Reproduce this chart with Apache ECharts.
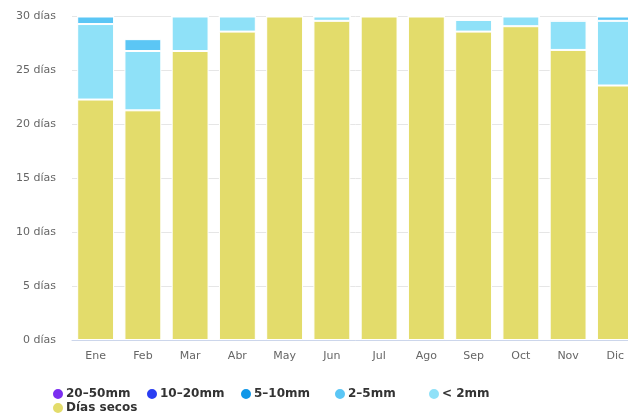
<!DOCTYPE html>
<html>
<head>
<meta charset="utf-8">
<script src="https://cdn.jsdelivr.net/npm/echarts@6/dist/echarts.min.js"></script>
<style>
html,body{margin:0;padding:0;background:#fff;overflow:hidden;}
#chart{width:640px;height:414px;}
</style>
</head>
<body>
<div id="chart"></div>
<script>
var months = ['Ene','Feb','Mar','Abr','May','Jun','Jul','Ago','Sep','Oct','Nov','Dic'];
var yTicks = [0,5,10,15,20,25,30];
var diasSecos = [22.3, 21.3, 26.8, 28.6, 30, 29.6, 30, 30, 28.6, 29.1, 26.9, 23.6];
var menos2mm  = [7.0, 5.5, 3.2, 1.4, 0, 0.4, 0, 0, 1.1, 0.9, 2.7, 6.0];
var r2a5mm    = [0.7, 1.1, 0, 0, 0, 0, 0, 0, 0, 0, 0.15, 0.4];
var r5a10mm   = [0, 0.12, 0, 0, 0, 0, 0, 0, 0, 0, 0, 0];
var r10a20mm  = [0, 0, 0, 0, 0, 0, 0, 0, 0, 0, 0, 0];
var r20a50mm  = [0, 0, 0, 0, 0, 0, 0, 0, 0, 0, 0, 0];

var names = ['Días secos','< 2mm','2–5mm','5–10mm','10–20mm','20–50mm'];
var colors = ['#e3dc6b','#8fe1f8','#5bc6f5','#0f97e8','#2a3ef2','#7b2ef0'];
var datas = [diasSecos, menos2mm, r2a5mm, r5a10mm, r10a20mm, r20a50mm];

var chart = echarts.init(document.getElementById('chart'));
var series = names.map(function(n,i){
  return {
    name: n, type: 'bar', stack: 'd', data: datas[i],
    barCategoryGap: '22%',
    itemStyle: {color: colors[i], borderColor: '#fff', borderWidth: 1},
    emphasis: {disabled: true}
  };
});
chart.setOption({
  animation: false,
  color: colors,
  grid: {left: 72, top: 16.5, right: 1, bottom: 74, containLabel: false},
  legend: {
    data: ['20–50mm','10–20mm','5–10mm','2–5mm','< 2mm','Días secos'],
    left: 46, top: 382, width: 480,
    orient: 'horizontal',
    icon: 'circle', itemWidth: 12, itemHeight: 12, itemGap: 0,
    selectedMode: false,
    textStyle: {fontFamily: 'DejaVu Sans', fontWeight: 'bold', fontSize: 12, color: '#333', width: 79, lineHeight: 12, padding: [0,0,0,-3]}
  },
  xAxis: {
    type: 'category', data: months,
    axisLine: {lineStyle: {color: '#ccd6eb'}},
    axisTick: {show: false},
    axisLabel: {fontFamily: 'DejaVu Sans', fontSize: 11, color: '#666', margin: 11}
  },
  yAxis: {
    type: 'value', min: 0, max: 30, interval: 5,
    axisLine: {show: false}, axisTick: {show: false},
    splitLine: {lineStyle: {color: '#e6e6e6'}},
    axisLabel: {fontFamily: 'DejaVu Sans', fontSize: 11, color: '#666', margin: 16,
      formatter: function(v){ return yTicks.indexOf(v) >= 0 ? v + ' días' : ''; }}
  },
  series: series
});
</script>
</body>
</html>
